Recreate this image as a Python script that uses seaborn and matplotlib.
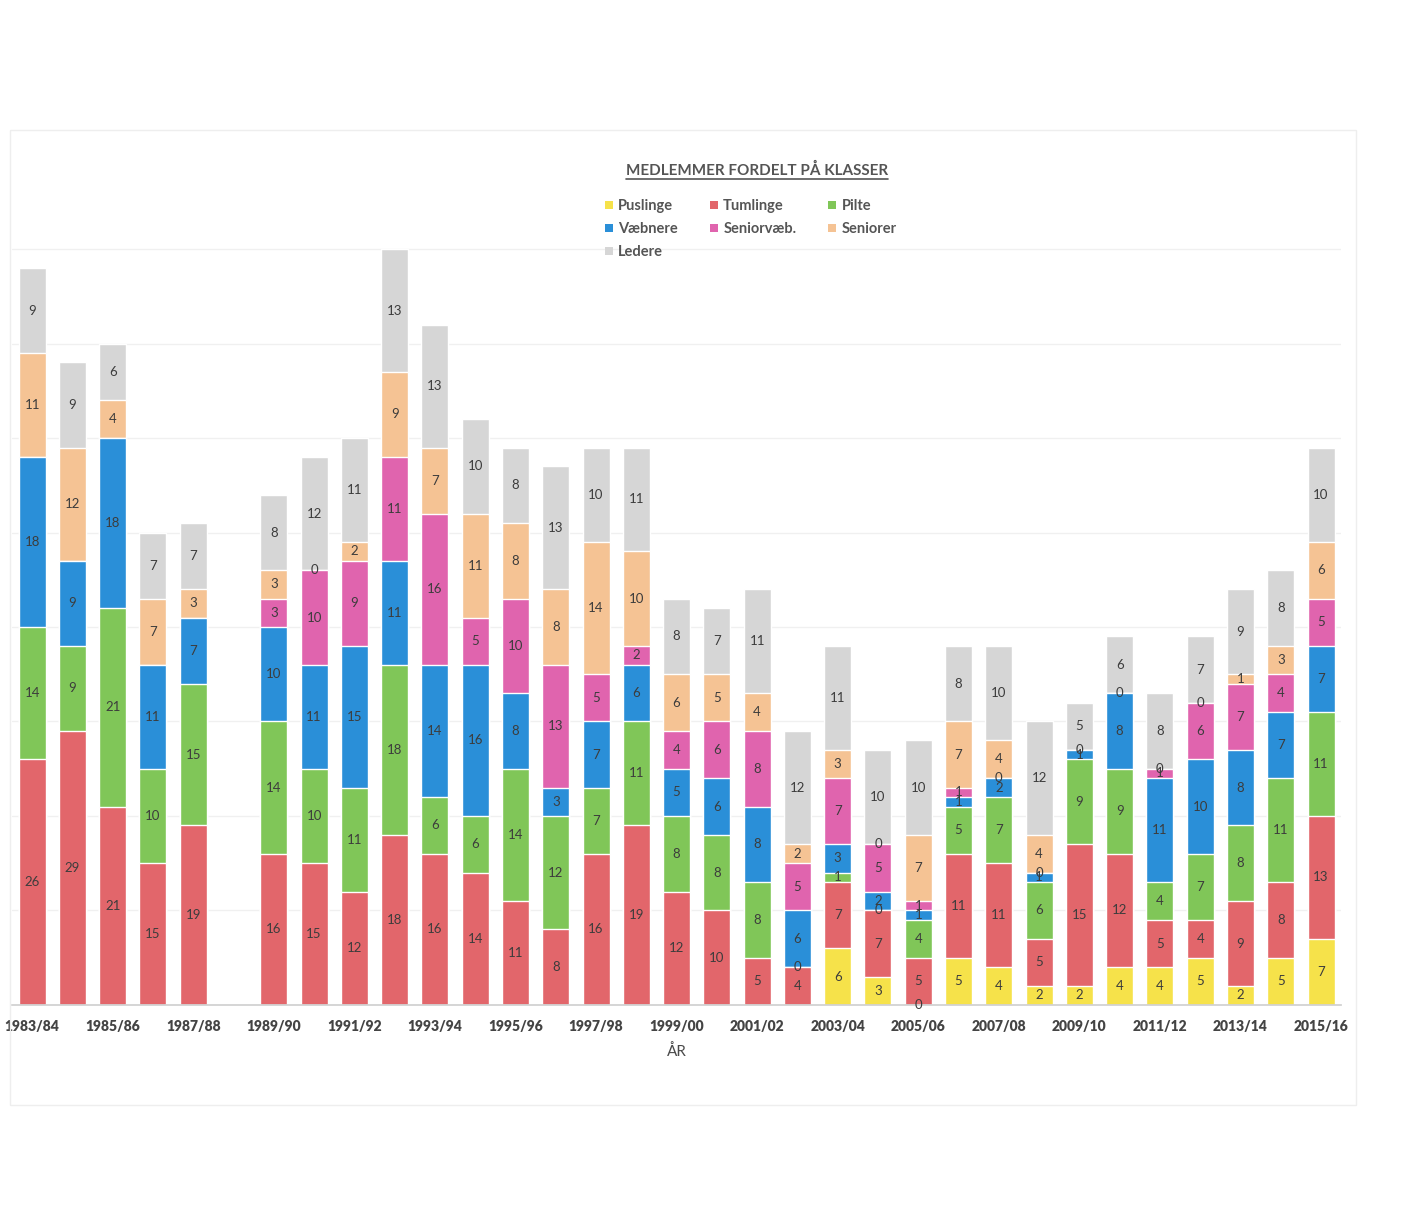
import numpy as np
import pandas as pd
import matplotlib
matplotlib.use("Agg")
import matplotlib.pyplot as plt
from matplotlib.patches import Patch, Rectangle
import seaborn as sns

# ============================================================
# DATA
# ============================================================

years = [
    "1983/84", "1984/85", "1985/86", "1986/87", "1987/88", "1988/89",
    "1989/90", "1990/91", "1991/92", "1992/93", "1993/94", "1994/95",
    "1995/96", "1996/97", "1997/98", "1998/99", "1999/00", "2000/01",
    "2001/02", "2002/03", "2003/04", "2004/05", "2005/06", "2006/07",
    "2007/08", "2008/09", "2009/10", "2010/11", "2011/12", "2012/13",
    "2013/14", "2014/15", "2015/16",
]

n = np.nan

puslinge = [n, n, n, n, n, n, n, n, n, n, n, n, n, n, n, n, n, n, n, n,
            6, 3, 0, 5, 4, 2, 2, 4, 4, 5, 2, 5, 7]
tumlinge = [26, 29, 21, 15, 19, n, 16, 15, 12, 18, 16, 14, 11, 8, 16, 19, 12, 10,
            5, 4, 7, 7, 5, 11, 11, 5, 15, 12, 5, 4, 9, 8, 13]
pilte = [14, 9, 21, 10, 15, n, 14, 10, 11, 18, 6, 6, 14, 12, 7, 11, 8, 8,
         8, 0, 1, 0, 4, 5, 7, 6, 9, 9, 4, 7, 8, 11, 11]
vaebnere = [18, 9, 18, 11, 7, n, 10, 11, 15, 11, 14, 16, 8, 3, 7, 6, 5, 6,
            8, 6, 3, 2, 1, 1, 2, 1, 1, 8, 11, 10, 8, 7, 7]
seniorvaeb = [n, n, n, n, n, n, 3, 10, 9, 11, 16, 5, 10, 13, 5, 2, 4, 6,
              8, 5, 7, 5, 1, 1, 0, 0, 0, 0, 1, 6, 7, 4, 5]
seniorer = [11, 12, 4, 7, 3, n, 3, 0, 2, 9, 7, 11, 8, 8, 14, 10, 6, 5,
            4, 2, 3, 0, 7, 7, 4, 4, n, n, 0, 0, 1, 3, 6]
ledere = [9, 9, 6, 7, 7, n, 8, 12, 11, 13, 13, 10, 8, 13, 10, 11, 8, 7,
          11, 12, 11, 10, 10, 8, 10, 12, 5, 6, 8, 7, 9, 8, 10]

series_names = ["Puslinge", "Tumlinge", "Pilte", "Væbnere",
                "Seniorvæb.", "Seniorer", "Ledere"]
series_values = [puslinge, tumlinge, pilte, vaebnere,
                 seniorvaeb, seniorer, ledere]
colors = ["#f6e24a", "#e2666b", "#80c658", "#2a8fd8",
          "#e064ae", "#f5c394", "#d6d6d6"]

tick_labels = years[::2]

# ============================================================
# PLOT
# ============================================================

sns.set_theme(style="white")
plt.rcParams["font.family"] = ["Lato", "DejaVu Sans"]

df = pd.DataFrame(dict(zip(series_names, series_values)), index=years)
df.index.name = "year"
cum = df.fillna(0).cumsum(axis=1)

fig = plt.figure(figsize=(14.14, 12.27), dpi=100)
ax = fig.add_axes([0.0085, 0.181, 0.94, 0.713])

# grid lines (faint)
for yv in range(10, 90, 10):
    ax.axhline(yv, color="#f0f0f0", lw=1, zorder=0)

# stacked bars: draw cumulative totals from the top layer down
for name, col in zip(series_names[::-1], colors[::-1]):
    plot_df = pd.DataFrame({"year": years, "value": cum[name].values})
    sns.barplot(data=plot_df, x="year", y="value", color=col,
                width=0.67, saturation=1, ax=ax, zorder=2, order=years)

# value labels
for i, yr in enumerate(years):
    base = 0.0
    for name in series_names:
        v = df.loc[yr, name]
        if pd.isna(v):
            continue
        ax.text(i, base + v / 2, f"{int(v)}", ha="center", va="center",
                fontsize=9.5, color="#3c3c3c", zorder=5)
        base += v

ax.set_xlim(-0.5, len(years) - 0.5)
ax.set_ylim(0, 92.6)
ax.set_yticks([])
ax.set_ylabel("")
ax.set_xticks(range(0, len(years), 2))
ax.set_xticklabels(tick_labels, fontsize=10, fontweight="heavy", color="#444444")
ax.tick_params(axis="x", length=0, pad=11)
ax.set_xlabel("ÅR", fontsize=11, color="#4a4a4a", labelpad=8)
for s in ["top", "right", "left"]:
    ax.spines[s].set_visible(False)
ax.spines["bottom"].set_color("#d0d0d0")
ax.spines["bottom"].set_zorder(3)

# faint outer chart frame
fig.patches.append(Rectangle((10 / 1414, 1 - 1105 / 1227), 1346 / 1414, 975 / 1227,
                             transform=fig.transFigure, fill=False,
                             edgecolor="#eeeeee", lw=1))

# title
fig.text(757 / 1414, 1 - 170 / 1227, "MEDLEMMER FORDELT PÅ KLASSER",
         ha="center", va="center", fontsize=11, fontweight="bold",
         color="#555555")
fig.lines.append(plt.Line2D([626 / 1414, 888 / 1414],
                            [1 - 179 / 1227, 1 - 179 / 1227],
                            transform=fig.transFigure, color="#555555", lw=1.2))

# legend, row-wise order in three columns
handles = [Patch(facecolor=c, edgecolor="none") for c in colors]
order = [0, 3, 6, 1, 4, 2, 5]
leg = fig.legend([handles[k] for k in order], [series_names[k] for k in order],
                 ncol=3, loc="upper left", bbox_to_anchor=(592 / 1414, 1 - 186 / 1227),
                 frameon=False, handlelength=0.55, handleheight=0.55,
                 handletextpad=0.35, columnspacing=2.2, labelspacing=0.62,
                 prop={"weight": "bold", "size": 10.5})
for txt in leg.get_texts():
    txt.set_color("#555555")

fig.savefig("out.png", dpi=100, facecolor="white")
